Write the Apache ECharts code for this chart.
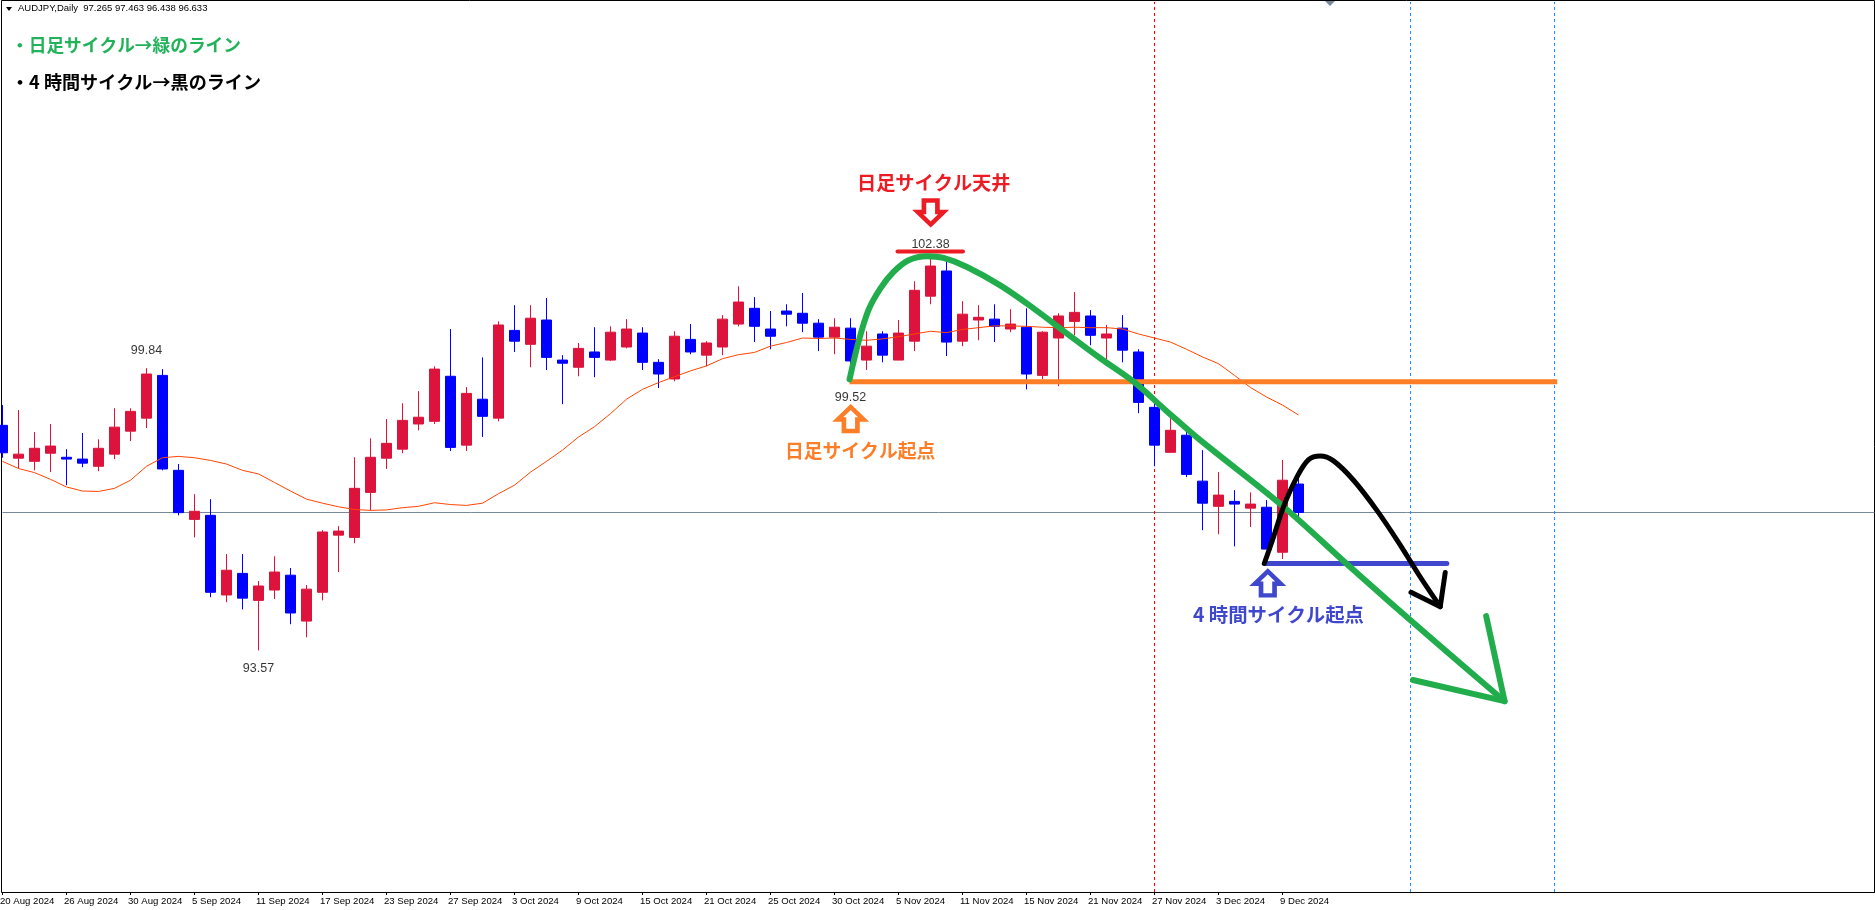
<!DOCTYPE html>
<html>
<head>
<meta charset="utf-8">
<title>AUDJPY Daily</title>
<style>
  html, body { margin: 0; padding: 0; background: #fff; }
  #chart { width: 1875px; height: 910px; }
</style>
<script src="https://cdn.jsdelivr.net/npm/echarts@6/dist/echarts.min.js"></script>
</head>
<body>
<div id="chart"></div>
<script>
// every 4th bar carries a date label
const tickLabels = ['20 Aug 2024', '26 Aug 2024', '30 Aug 2024', '5 Sep 2024', '11 Sep 2024', '17 Sep 2024', '23 Sep 2024', '27 Sep 2024', '3 Oct 2024', '9 Oct 2024', '15 Oct 2024', '21 Oct 2024', '25 Oct 2024', '30 Oct 2024', '5 Nov 2024', '11 Nov 2024', '15 Nov 2024', '21 Nov 2024', '27 Nov 2024', '3 Dec 2024', '9 Dec 2024']

const openPrices = [98.57, 97.84, 97.77, 97.95, 97.86, 97.82, 97.66, 97.93, 98.44, 98.73, 99.68, 97.57, 96.48, 96.57, 94.80, 95.28, 94.68, 94.91, 95.24, 94.22, 94.86, 96.13, 96.08, 97.08, 97.84, 98.04, 98.60, 98.66, 99.66, 98.13, 99.15, 98.73, 100.68, 100.37, 100.91, 100.02, 99.86, 100.20, 100.02, 100.31, 100.62, 99.97, 99.60, 100.48, 100.13, 100.31, 100.82, 101.17, 100.71, 101.11, 101.06, 100.84, 100.53, 100.73, 100.02, 100.60, 100.02, 100.44, 101.44, 102.00, 100.44, 100.91, 100.93, 100.71, 100.75, 99.68, 100.51, 100.88, 101.00, 100.51, 100.73, 100.20, 98.97, 97.97, 98.35, 97.33, 96.77, 96.88, 96.73, 96.75, 95.75, 97.265]
const closePrices = [97.96, 97.93, 98.06, 98.11, 97.82, 97.73, 98.06, 98.53, 98.88, 99.71, 97.60, 96.63, 96.66, 94.86, 95.35, 94.73, 95.00, 95.31, 94.40, 94.93, 96.20, 96.22, 97.17, 97.86, 98.17, 98.68, 98.75, 99.82, 98.08, 99.28, 98.77, 100.80, 100.44, 100.95, 100.08, 99.95, 100.28, 100.08, 100.64, 100.71, 99.97, 99.71, 100.55, 100.20, 100.40, 100.93, 101.31, 100.77, 100.55, 101.04, 100.84, 100.53, 100.75, 100.00, 100.33, 100.13, 100.62, 101.57, 102.11, 100.42, 101.04, 100.97, 100.77, 100.82, 99.71, 100.64, 101.00, 101.08, 100.57, 100.60, 100.24, 99.08, 98.13, 98.46, 97.48, 96.84, 97.02, 96.82, 96.82, 95.82, 97.35, 96.633]
const lowPrices = [97.85, 97.61, 97.57, 97.53, 97.24, 97.64, 97.55, 97.82, 98.22, 98.51, 97.57, 96.57, 96.08, 94.75, 94.64, 94.48, 93.57, 94.71, 94.15, 93.86, 94.68, 95.31, 95.95, 96.68, 97.60, 97.95, 98.46, 98.60, 98.00, 98.00, 98.31, 98.66, 100.20, 99.86, 99.80, 99.04, 99.66, 99.64, 100.00, 100.28, 99.80, 99.40, 99.55, 100.15, 99.88, 100.13, 100.77, 100.42, 100.26, 100.77, 100.64, 100.22, 100.15, 99.91, 99.80, 99.97, 100.02, 100.22, 101.26, 100.11, 100.33, 100.46, 100.42, 100.64, 99.37, 99.60, 99.44, 100.57, 100.35, 100.02, 99.97, 98.84, 97.66, 97.97, 97.42, 96.24, 96.15, 95.88, 96.31, 95.82, 95.60, 96.438]
const highPrices = [99.02, 98.91, 98.42, 98.60, 98.04, 98.40, 98.26, 98.95, 98.95, 99.84, 99.82, 97.71, 97.04, 96.93, 95.71, 95.71, 95.11, 95.66, 95.40, 95.02, 96.24, 96.33, 97.86, 98.28, 98.71, 99.06, 99.33, 99.88, 100.71, 99.42, 100.08, 100.88, 101.24, 101.24, 101.40, 100.13, 100.40, 100.75, 100.77, 100.93, 100.75, 100.04, 100.66, 100.82, 100.44, 101.02, 101.66, 101.42, 101.11, 101.26, 101.51, 100.93, 100.95, 100.95, 100.66, 100.66, 100.91, 101.77, 102.38, 102.24, 101.33, 101.24, 101.26, 101.15, 101.17, 100.66, 101.06, 101.53, 101.13, 100.80, 101.02, 100.26, 99.05, 98.76, 98.50, 98.02, 97.53, 97.13, 97.08, 96.91, 97.80, 97.463]
const maValues = [97.77, 97.61, 97.52, 97.37, 97.20, 97.11, 97.10, 97.17, 97.35, 97.66, 97.85, 97.88, 97.85, 97.79, 97.71, 97.57, 97.49, 97.30, 97.11, 96.93, 96.84, 96.76, 96.70, 96.68, 96.69, 96.74, 96.77, 96.85, 96.81, 96.79, 96.84, 97.05, 97.24, 97.53, 97.77, 98.02, 98.31, 98.54, 98.83, 99.15, 99.37, 99.52, 99.65, 99.78, 99.89, 100.05, 100.14, 100.19, 100.33, 100.41, 100.51, 100.50, 100.51, 100.48, 100.46, 100.49, 100.54, 100.60, 100.66, 100.63, 100.70, 100.74, 100.78, 100.78, 100.77, 100.75, 100.74, 100.75, 100.74, 100.74, 100.71, 100.60, 100.51, 100.42, 100.26, 100.09, 99.94, 99.68, 99.41, 99.20, 99.02, 98.80]

const currentPrice = 96.633
const futureBars = 36
const cycleMarks = [72, 88, 97]
const priceMin = 88.2
const priceMax = 107.977

// hand drawn lines on the chart, [bar index, price]
const greenCurve = [[52.94, 99.59], [53.5, 100.42], [54.12, 101.13], [54.86, 101.61], [55.69, 101.98], [56.63, 102.24], [57.78, 102.33], [58.81, 102.29], [60.28, 102.09], [62.36, 101.68], [64.44, 101.17], [66.53, 100.61], [68.61, 100.06], [70.69, 99.54], [72.78, 98.88], [74.86, 98.24], [80.06, 96.76], [84.23, 95.42], [89.42, 93.80], [93.88, 92.44]]
const greenHead = [[92.73, 94.33], [93.88, 92.44], [88.15, 92.91]]
const blackCurve = [[78.86, 95.50], [79.44, 96.09], [80.06, 96.76], [80.9, 97.42], [81.63, 97.81], [82.36, 97.89], [83.19, 97.78], [84.44, 97.35], [85.9, 96.68], [87.36, 95.91], [88.61, 95.20], [89.86, 94.54]]
const blackHead = [[90.17, 95.30], [89.86, 94.54], [88.03, 94.86]]
const orangeLine = [[52.94, 99.54], [97.17, 99.54]]
const blueLine = [[78.98, 95.50], [90.27, 95.50]]
const redLine = [[55.94, 102.43], [60.03, 102.43]]

const categories = []
for (let i = 0; i < openPrices.length + futureBars; i++) {
  categories.push(i % 4 === 0 && tickLabels[i / 4] ? tickLabels[i / 4] : '')
}
const candles = openPrices.map((o, i) => [o, closePrices[i], lowPrices[i], highPrices[i]])
const lastBar = categories.length - 1

const arrowUp = 'path://M50 0 L100 52 L76 52 L76 100 L24 100 L24 52 L0 52 Z'
const arrowDown = 'path://M50 100 L100 48 L76 48 L76 0 L24 0 L24 48 L0 48 Z'
const jpFont = '"Noto Sans CJK JP", sans-serif'
const smallFont = '"Liberation Sans", Arial, sans-serif'

function overlay(data, color, width, extra) {
  return Object.assign({
    type: 'line',
    xAxisIndex: 1,
    data: data,
    symbol: 'none',
    silent: true,
    z: 6,
    lineStyle: { color: color, width: width, cap: 'round', join: 'round' },
  }, extra)
}

function vertical(k, color) {
  return overlay([[k, priceMin], [k, priceMax]], color, 1, {
    z: 1,
    lineStyle: { color: color, width: 1, type: [3, 3] },
  })
}

function blockArrow(k, price, path, color) {
  return {
    type: 'scatter',
    xAxisIndex: 1,
    data: [[k, price]],
    symbol: path,
    symbolSize: [26, 24],
    silent: true,
    z: 7,
    itemStyle: { color: '#fff', borderColor: color, borderWidth: 4.5, opacity: 1 },
  }
}

function peakLabel(k, price, position, distance) {
  return {
    type: 'scatter',
    xAxisIndex: 1,
    data: [[k, price]],
    symbolSize: 0,
    silent: true,
    z: 8,
    label: {
      show: true,
      position: position,
      distance: distance,
      color: '#000',
      fontSize: 12.5,
      fontFamily: smallFont,
      formatter: (p) => p.value[1].toFixed(2),
    },
  }
}

function bigText(left, top, text, color, size) {
  return {
    type: 'text',
    left: left,
    top: top,
    z: 20,
    style: { text: text, fill: color, font: 'bold ' + size + 'px ' + jpFont },
  }
}

const chart = echarts.init(document.getElementById('chart'))

chart.setOption({
  animation: false,
  backgroundColor: '#fff',
  grid: {
    left: 2.5,
    right: 0.5,
    top: 2,
    bottom: 18,
    show: false,
    outerBoundsMode: 'none',
  },
  xAxis: [
    {
      type: 'category',
      data: categories,
      boundaryGap: false,
      axisLine: { lineStyle: { color: '#000', width: 1 } },
      axisTick: {
        length: 3,
        lineStyle: { color: '#000' },
        interval: (i) => i % 4 === 0 && i <= 80,
      },
      axisLabel: {
        interval: (i) => i % 4 === 0 && i <= 80,
        align: 'left',
        margin: 4,
        padding: [0, 0, 0, -2.5],
        color: '#000',
        fontSize: 9.6,
        fontFamily: smallFont,
      },
      splitLine: { show: false },
    },
    { type: 'value', show: false, min: 0, max: lastBar, splitLine: { show: false } },
  ],
  yAxis: { type: 'value', show: false, min: priceMin, max: priceMax, splitLine: { show: false } },
  series: [
    overlay([[0, currentPrice], [lastBar, currentPrice]], '#778899', 1, { z: 1, lineStyle: { color: '#778899', width: 1 } }),
    vertical(cycleMarks[0], '#ff0000'),
    vertical(cycleMarks[1], '#1e90ff'),
    vertical(cycleMarks[2], '#1e90ff'),
    {
      type: 'candlestick',
      data: candles,
      barWidth: 11,
      z: 3,
      silent: true,
      itemStyle: { color: '#dc143c', color0: '#0000ff', borderColor: '#dc143c', borderColor0: '#0000ff', borderWidth: 1 },
    },
    {
      type: 'line',
      data: maValues,
      symbol: 'none',
      silent: true,
      z: 4,
      lineStyle: { color: '#ff4500', width: 1 },
    },
    peakLabel(9, 99.84, 'top', 11),
    peakLabel(58, 102.38, 'top', 3),
    peakLabel(16, 93.57, 'bottom', 12),
    peakLabel(53, 99.52, 'bottom', 8),
    overlay(orangeLine, '#fd7e27', 5, { lineStyle: { color: '#fd7e27', width: 5 } }),
    overlay(blueLine, '#3f48cc', 5),
    overlay(redLine, '#ed1c24', 4),
    overlay(greenCurve, '#22ad4d', 6, { smooth: 0.35, z: 7 }),
    overlay(greenHead, '#22ad4d', 6, { z: 7 }),
    overlay(blackCurve, '#000', 5, { smooth: 0.35, z: 8 }),
    overlay(blackHead, '#000', 5, { z: 8 }),
    blockArrow(58.01, 103.30, arrowDown, '#ed1c24'),
    blockArrow(53.01, 98.71, arrowUp, '#fd7e27'),
    blockArrow(79.08, 95.06, arrowUp, '#3f48cc'),
  ],
  graphic: [
    { type: 'rect', z: -1, shape: { x: 1.5, y: 0.5, width: 1873, height: 892 }, style: { fill: 'none', stroke: '#000', lineWidth: 1 } },
    { type: 'polygon', z: 20, shape: { points: [[6, 7], [12, 7], [9, 11]] }, style: { fill: '#000' } },
    { type: 'polygon', z: 20, shape: { points: [[1325, 1], [1335, 1], [1330, 6]] }, style: { fill: '#778899' } },
    {
      type: 'text',
      left: 18,
      top: 3,
      z: 20,
      style: { text: 'AUDJPY,Daily  97.265 97.463 96.438 96.633', fill: '#000', font: '9.5px ' + smallFont },
    },
    bigText(11, 36, '・日足サイクル→緑のライン', '#22b35a', 17.7),
    bigText(11, 73, '・4 時間サイクル→黒のライン', '#000', 18.1),
    bigText(857, 173, '日足サイクル天井', '#ed1c24', 19.2),
    bigText(785, 441, '日足サイクル起点', '#fd7e27', 18.8),
    bigText(1193, 605, '4 時間サイクル起点', '#3f48cc', 19.4),
  ],
})
</script>
</body>
</html>
